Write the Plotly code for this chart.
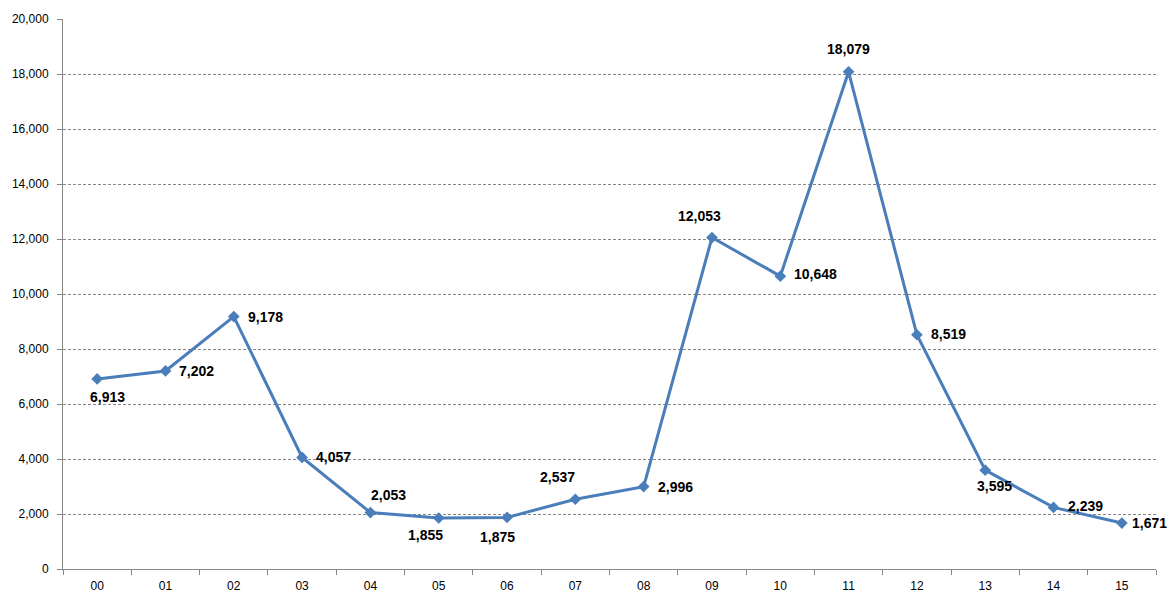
import plotly.graph_objects as go

categories = ["00", "01", "02", "03", "04", "05", "06", "07", "08", "09", "10", "11", "12", "13", "14", "15"]
values = [6913, 7202, 9178, 4057, 2053, 1855, 1875, 2537, 2996, 12053, 10648, 18079, 8519, 3595, 2239, 1671]
# label placement: (anchor, xshift, yshift)
label_place = [("c", 10, -18), ("l", 12, 0), ("l", 12, 0), ("l", 12, 0), ("c", 18, 18),
               ("c", -13, -17), ("c", -10, -20), ("c", -18, 22), ("l", 12, 0), ("c", -12, 22),
               ("l", 12, 2), ("c", 0, 23), ("l", 12, 1), ("c", 9, -16), ("l", 12, 1), ("l", 8, 0)]
y_ticks = [0, 2000, 4000, 6000, 8000, 10000, 12000, 14000, 16000, 18000, 20000]

fig = go.Figure()
fig.add_trace(go.Scatter(
    x=categories, y=values,
    mode="lines+markers",
    line=dict(color="#4a7ebb", width=3),
    marker=dict(symbol="diamond", size=9, color="#4a7ebb"),
    cliponaxis=False,
    showlegend=False,
))

for cat, v, (anc, dx, dy) in zip(categories, values, label_place):
    fig.add_annotation(
        x=cat, y=v, text=f"{v:,}", showarrow=False,
        xanchor="left" if anc == "l" else "center", yanchor="middle",
        xshift=dx, yshift=dy,
        font=dict(family="Liberation Sans", size=14, color="#000000", weight="bold"),
    )

fig.update_layout(
    width=1171, height=605,
    margin=dict(l=62, r=15, t=15, b=35),
    paper_bgcolor="white", plot_bgcolor="white",
    font=dict(family="Liberation Sans", size=12, color="#000000"),
    xaxis=dict(
        type="category", range=[-0.5, 15.5],
        showline=True, linecolor="#868686", linewidth=1,
        ticks="outside", tickson="boundaries", ticklen=5, tickcolor="#868686",
        ticklabelstandoff=6,
        showgrid=False, zeroline=False,
        tickfont=dict(size=12),
    ),
    yaxis=dict(
        range=[0, 20000], tickvals=y_ticks, tickformat=",d",
        showline=True, linecolor="#868686", linewidth=1,
        ticks="outside", ticklen=5, tickcolor="#868686",
        ticklabelstandoff=6,
        showgrid=True, gridcolor="#868686", griddash="3px,2px", gridwidth=1,
        zeroline=False, tickfont=dict(size=12),
    ),
)

fig.write_html("out.html")
